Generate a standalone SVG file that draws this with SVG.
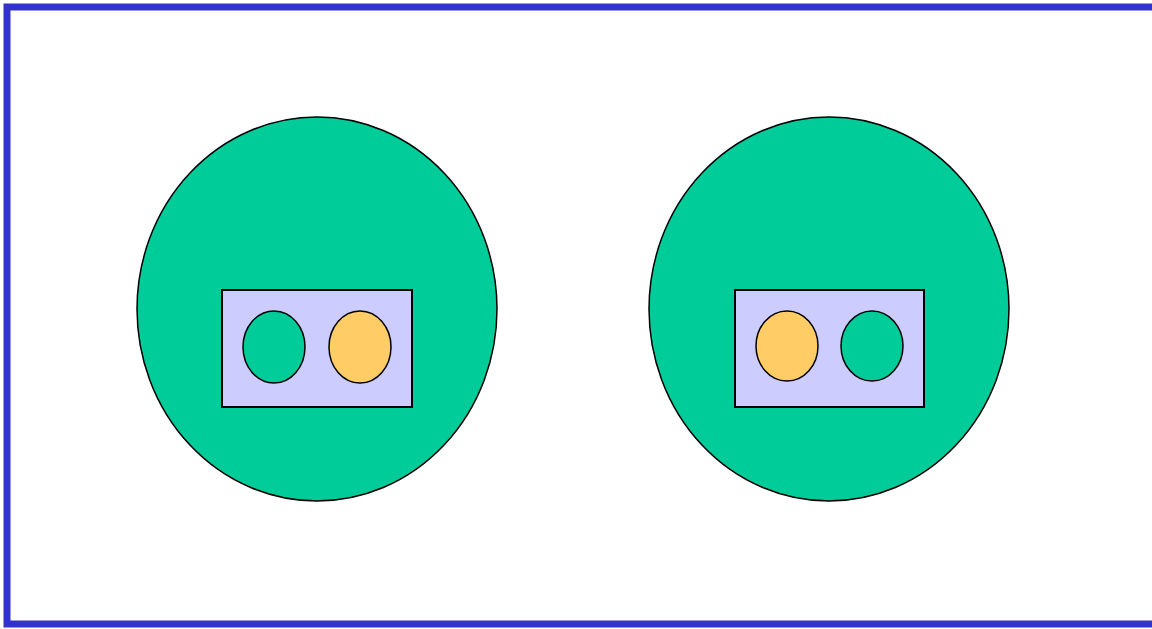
<svg xmlns="http://www.w3.org/2000/svg" width="1152" height="629" viewBox="0 0 1152 629">
<style>
.frame{fill:#ffffff;stroke:#3333cc;stroke-width:7}
.big{fill:#00cc99;stroke:#000000;stroke-width:1.5}
.box{fill:#ccccff;stroke:#000000;stroke-width:2}
.g{fill:#00cc99;stroke:#000000;stroke-width:1.5}
.y{fill:#ffcc66;stroke:#000000;stroke-width:1.5}
</style>
<rect class="frame" x="7" y="7" width="1160" height="617"/>
<g id="node-left">
<ellipse class="big" cx="317" cy="309" rx="180" ry="192"/>
<rect class="box" x="222" y="290" width="190" height="117"/>
<ellipse class="g" cx="274" cy="347" rx="31" ry="36"/>
<ellipse class="y" cx="360" cy="347" rx="31" ry="36"/>
</g>
<g id="node-right">
<ellipse class="big" cx="829" cy="309" rx="180" ry="192"/>
<rect class="box" x="735" y="290" width="189" height="117"/>
<ellipse class="y" cx="787" cy="346" rx="31" ry="35"/>
<ellipse class="g" cx="872" cy="346" rx="31" ry="35"/>
</g>
<g id="connectors"/>
</svg>
